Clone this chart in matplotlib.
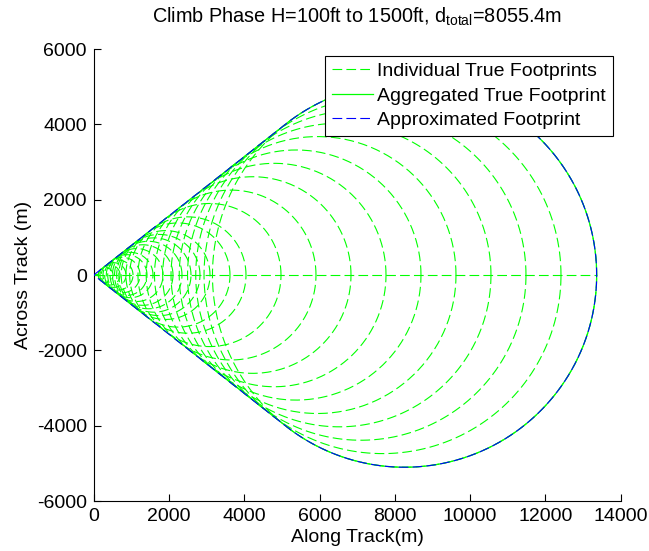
import numpy as np
import matplotlib
matplotlib.use("Agg")
import matplotlib.pyplot as plt

plt.rcParams['font.family'] = ['Liberation Sans', 'DejaVu Sans']
plt.rcParams['mathtext.default'] = 'regular'
plt.rcParams['lines.scale_dashes'] = False
plt.rcParams['axes.unicode_minus'] = False

# Individual footprint circles: centre along track and radius (m)
centers = [317, 432, 530, 645, 760, 875, 973, 1138, 1302, 1449, 1597, 1745, 1909,
           2237, 2500, 3075, 3649, 4224, 4798, 5373, 5947, 6522, 7096, 7671, 8257]
radii = [196, 267, 328, 399, 470, 541, 602, 703, 804, 896, 987, 1078, 1180,
         1383, 1545, 1900, 2255, 2610, 2966, 3320, 3676, 4030, 4386, 4741, 5103]

title = r'Climb Phase H=100ft to 1500ft, d$_{total}$=8055.4m'
labels = ['Individual True Footprints', 'Aggregated True Footprint', 'Approximated Footprint']
xticks = [0, 2000, 4000, 6000, 8000, 10000, 12000, 14000]
yticks = [-6000, -4000, -2000, 0, 2000, 4000, 6000]

GREEN = '#00ff00'
BLUE = '#0000ff'
DASH = (0, (7.0, 3.0))
FS = 14

fig = plt.figure(figsize=(6.49, 5.51), dpi=100)
ax = fig.add_axes([0.1444, 0.0907, 0.8121, 0.8203])

t = np.linspace(0, 2 * np.pi, 400)
cs = np.array(centers, float)
rs = np.array(radii, float)
for i, (c, r) in enumerate(zip(cs, rs)):
    ax.plot(c + r * np.cos(t), r * np.sin(t), color=GREEN, lw=0.8, ls=DASH,
            label=labels[0] if i == 0 else None, zorder=2)
# ground track line
xmax = (cs + rs).max()
ax.plot([0, xmax], [0, 0], color=GREEN, lw=0.8, ls=DASH, zorder=2)

# aggregated true footprint: outline of union of circles
xs = np.linspace((cs - rs).min(), xmax, 2000)
yup = np.zeros_like(xs)
for c, r in zip(cs, rs):
    d = r ** 2 - (xs - c) ** 2
    yup = np.maximum(yup, np.sqrt(np.clip(d, 0, None)))
ax_x = np.concatenate([[0], xs, xs[::-1], [0]])
ax_y = np.concatenate([[0], yup, -yup[::-1], [0]])
ax.plot(ax_x, ax_y, color=GREEN, lw=0.9, ls='-', label=labels[1], zorder=3)

# approximated footprint: tangents from origin to last circle + arc
c, r = cs[-1], rs[-1]
alpha = np.arcsin(r / c)
phi0 = np.pi / 2 + alpha
ph = np.linspace(phi0, -phi0, 500)
bx = np.concatenate([[0], c + r * np.cos(ph), [0]])
by = np.concatenate([[0], r * np.sin(ph), [0]])
ax.plot(bx, by, color=BLUE, lw=0.8, ls=DASH, label=labels[2], zorder=4)

ax.set_xlim(0, 14000)
ax.set_ylim(-6000, 6000)
ax.set_xticks(xticks)
ax.set_yticks(yticks)
ax.tick_params(direction='in', length=5, width=0.8, labelsize=FS, pad=5)
for s in ['top', 'right']:
    ax.spines[s].set_visible(False)
for s in ['left', 'bottom']:
    ax.spines[s].set_linewidth(0.8)

ax.set_xlabel('Along Track(m)', fontsize=FS, labelpad=3)
ax.set_ylabel('Across Track (m)', fontsize=FS, labelpad=3)
ax.set_title(title, fontsize=14.3, pad=19)

leg = ax.legend(loc='upper right', bbox_to_anchor=(0.985, 0.985), borderaxespad=0,
                fontsize=FS, frameon=True, fancybox=False, handlelength=2.15,
                handletextpad=0.2, labelspacing=0.35, borderpad=0.35)
leg.get_frame().set_edgecolor('black')
leg.get_frame().set_linewidth(0.8)
leg.get_frame().set_alpha(1)

fig.savefig('out.png', dpi=100)
